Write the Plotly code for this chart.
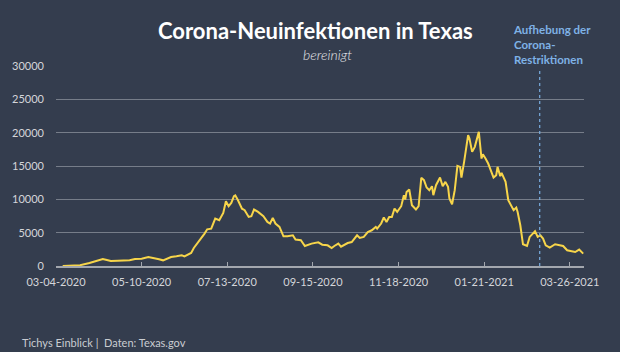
import plotly.graph_objects as go

# Days since 03-04-2020 (category position on the time axis)
day = [5, 11, 18, 25, 31, 35, 38, 41, 46, 50, 55, 59, 64, 69, 73, 77, 80, 83, 86, 90,
       94, 96, 101, 103, 107, 111, 113, 116, 119, 122, 125, 127, 129, 131, 133, 134, 136, 139, 141, 144,
       146, 148, 151, 155, 158, 160, 162, 164, 167, 169, 170, 173, 177, 179, 183, 186, 191, 196, 199, 203,
       206, 208, 211, 213, 218, 221, 225, 227, 230, 233, 236, 239, 240, 243, 245, 247, 249, 251, 253, 255,
       258, 260, 261, 262, 264, 266, 269, 271, 272, 273, 275, 277, 279, 281, 282, 284, 287, 289, 291, 293,
       294, 296, 298, 300, 302, 303, 305, 308, 309, 311, 313, 316, 318, 319, 321, 323, 327, 329, 330, 332,
       333, 336, 338, 341, 342, 344, 345, 347, 349, 352, 354, 358, 360, 362, 364, 366, 369, 373, 375, 379,
       382, 385, 388, 391, 394]
# New infections (adjusted)
cases = [0, 30, 120, 450, 750, 1050, 900, 760, 780, 820, 850, 1050, 1080, 1330, 1200, 1000, 850, 1100, 1350, 1450,
         1600, 1450, 1950, 2700, 3700, 4860, 5500, 5600, 7100, 6860, 7960, 9700, 8970, 9460, 10470, 10600, 9870, 8600, 8370, 7360,
         7460, 8470, 8110, 7460, 6610, 6370, 7210, 6370, 5860, 4860, 4460, 4460, 4610, 3960, 3860, 3000, 3360, 3560, 3200, 3100,
         2700, 3000, 3360, 2900, 3450, 3600, 4610, 4200, 4360, 5100, 5360, 5860, 5610, 6370, 7270, 6610, 7360, 7360, 8620, 8110,
         8970, 10620, 9970, 11110, 11470, 9120, 8470, 8970, 11370, 13220, 12870, 11770, 11370, 11970, 10620, 12120, 13270, 11970, 12620, 11870,
         10120, 9270, 11370, 15020, 14870, 13270, 15620, 19630, 19130, 17120, 17870, 20120, 16120, 16770, 16120, 15370, 13270, 13620, 14870, 13470,
         13970, 12620, 9870, 8860, 8370, 8770, 8110, 6110, 3260, 3000, 4360, 5210, 4360, 4610, 4110, 3100, 2760, 3260, 3200, 3000,
         2360, 2250, 2100, 2460, 1860]

tick_days = [0, 64, 128, 192, 256, 320, 384]
tick_labels = ["03-04-2020", "05-10-2020", "07-13-2020", "09-15-2020", "11-18-2020", "01-21-2021", "03-26-2021"]
y_ticks = [0, 5000, 10000, 15000, 20000, 25000, 30000]
restriction_day = 361.5

BG = "#343d4e"
FONT = "Lato"

fig = go.Figure()
fig.add_trace(go.Scatter(x=day, y=cases, mode="lines",
                         line=dict(color="#f7d54a", width=2), hoverinfo="skip"))

fig.add_shape(type="line", xref="x", yref="paper", x0=restriction_day, x1=restriction_day,
              y0=0, y1=0.975, line=dict(color="#7aaee0", width=1.2, dash="3px,3px"))

fig.update_layout(
    width=620, height=352, autosize=False,
    paper_bgcolor=BG, plot_bgcolor=BG,
    margin=dict(l=45, r=36, t=66, b=86),
    showlegend=False,
    font=dict(family=FONT, color="#d4d6da"),
    xaxis=dict(range=[0, 394.6], tickvals=tick_days, ticktext=tick_labels,
               showgrid=False, zeroline=False, showline=True, linecolor="#a3a7ae", linewidth=1.5,
               ticks="inside", ticklen=4, tickcolor="#a3a7ae", tickwidth=1,
               ticklabelstandoff=5,
               tickfont=dict(family=FONT, size=11, color="#d4d6da")),
    yaxis=dict(range=[0, 30000], tickvals=y_ticks, ticktext=[str(v) for v in y_ticks],
               showgrid=True, gridcolor="#767d89", gridwidth=1, zeroline=False, showline=False,
               ticklabelstandoff=11,
               tickfont=dict(family=FONT, size=11, color="#d4d6da")),
)

fig.add_annotation(xref="paper", yref="paper", x=(310 - 45) / 539, y=(266 - 30.5) / 200,
                   text="<b>Corona-Neuinfektionen in Texas</b>", showarrow=False,
                   xanchor="center", yanchor="middle",
                   font=dict(family=FONT, size=22, color="#ffffff"))
fig.add_annotation(xref="paper", yref="paper", x=(322 - 45) / 539, y=(266 - 54.5) / 200,
                   text="<i>bereinigt</i>", showarrow=False,
                   xanchor="center", yanchor="middle",
                   font=dict(family=FONT, size=14, color="#e6e7ea", weight=300))
fig.add_annotation(xref="paper", yref="paper", x=(509 - 45) / 539, y=(266 - 44.5) / 200,
                   text="<b>Aufhebung der<br>Corona-<br>Restriktionen</b>", showarrow=False,
                   xanchor="left", yanchor="middle", align="left",
                   font=dict(family=FONT, size=11.5, color="#7fb2e6"))
fig.add_annotation(xref="paper", yref="paper", x=(8 - 45) / 539, y=(266 - 342) / 200,
                   text="Tichys Einblick |  Daten: Texas.gov", showarrow=False,
                   xanchor="left", yanchor="middle",
                   font=dict(family=FONT, size=11, color="#c9ccd1"))

fig.write_html("out.html")
